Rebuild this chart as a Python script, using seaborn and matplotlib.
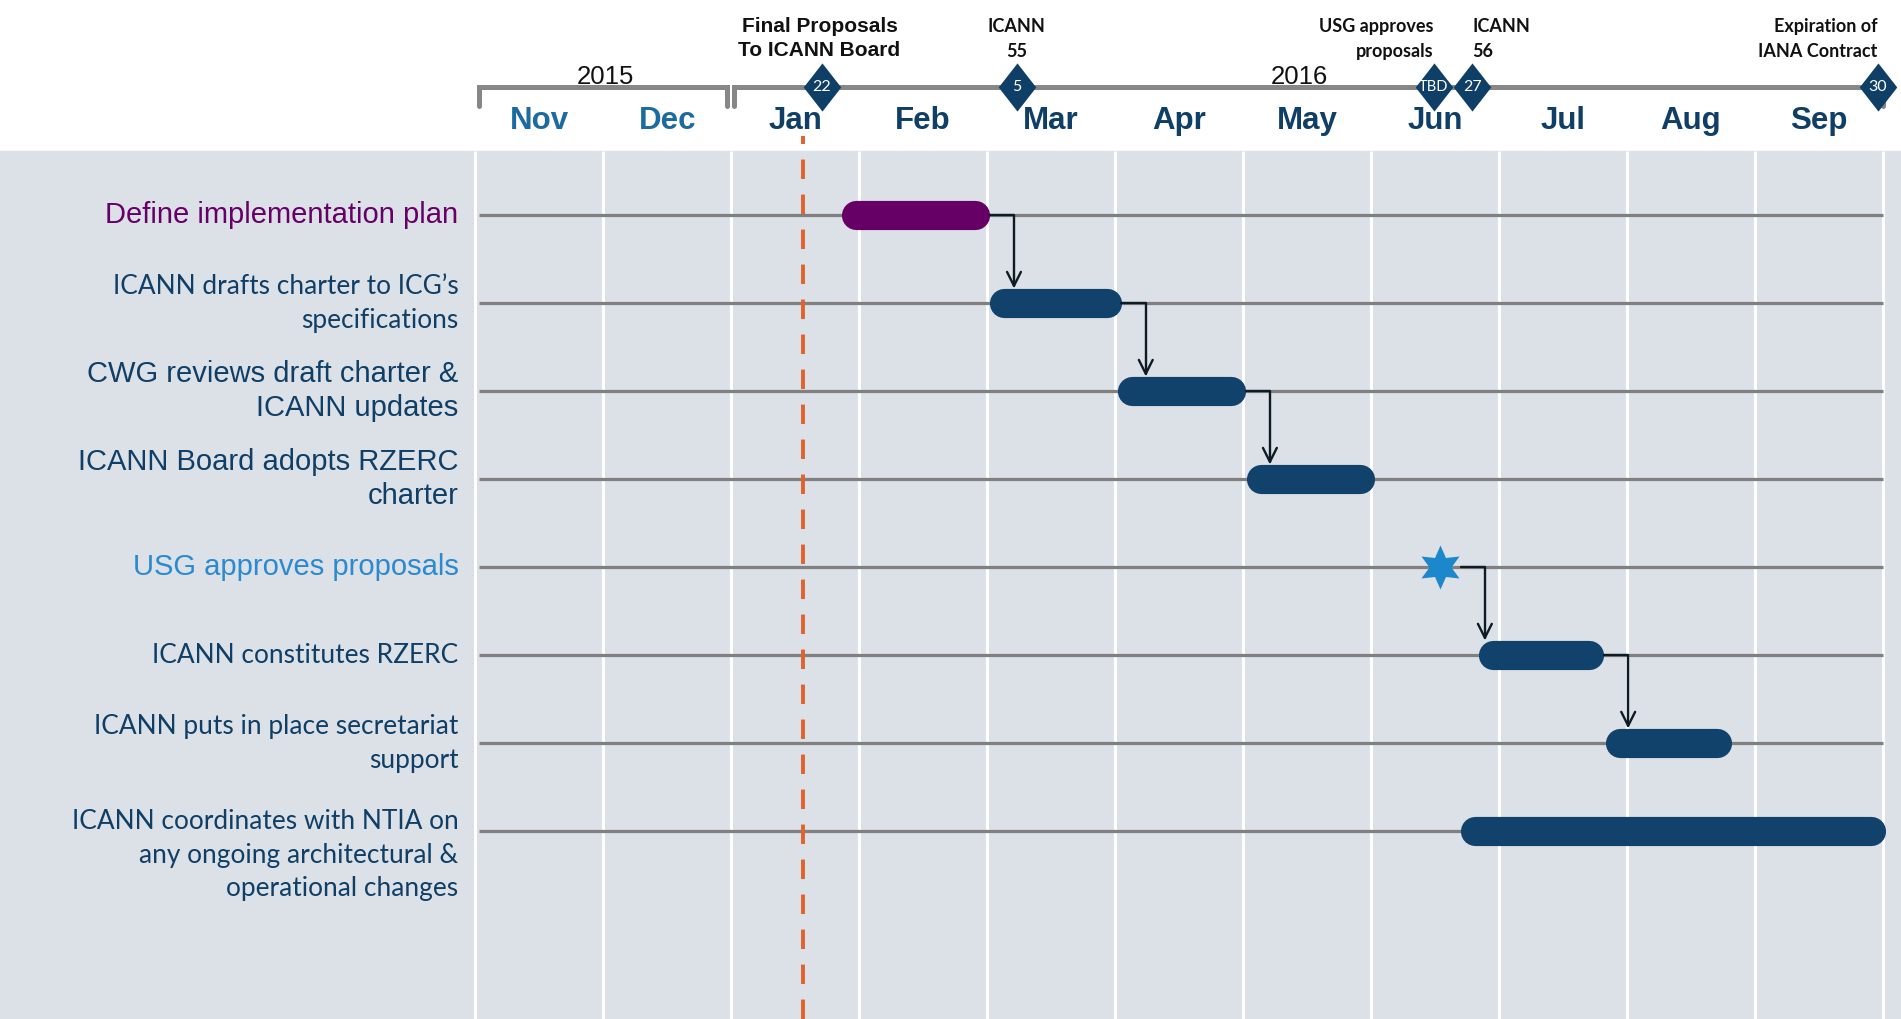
import matplotlib
matplotlib.use("Agg")
import matplotlib.pyplot as plt
from matplotlib.patches import Rectangle
import seaborn as sns

# x axis is in month units: 0 = start of Nov 2015, 11 = end of Sep 2016
months = ["Nov", "Dec", "Jan", "Feb", "Mar", "Apr", "May", "Jun", "Jul", "Aug", "Sep"]
years = ["2015", "2016"]
year_from = [0.03, 2.02]
year_to = [1.97, 11.0]
year_label_x = [1.02, 6.44]

tasks = ["Define implementation plan",
         "ICANN drafts charter to ICG\u2019s\nspecifications",
         "CWG reviews draft charter &\nICANN updates",
         "ICANN Board adopts RZERC\ncharter",
         "USG approves proposals",
         "ICANN constitutes RZERC",
         "ICANN puts in place secretariat\nsupport",
         "ICANN coordinates with NTIA on\nany ongoing architectural &\noperational changes"]

# bars (row index, start, end)
bar_row = [0, 1, 2, 3, 5, 6, 7]
bar_start = [2.86, 4.02, 5.02, 6.03, 7.84, 8.83, 7.70]
bar_end = [4.02, 5.05, 6.02, 7.03, 8.82, 9.82, 11.02]

# USG approval event
star_row = 4
star_x = 7.54

# dependency arrows (from row, to row)
links = [(0, 1), (1, 2), (2, 3), (4, 5), (5, 6)]

# milestones on the header timeline
ms_x = [2.71, 4.23, 7.49, 7.79, 10.96]
ms_day = ["22", "5", "TBD", "27", "30"]
ms_text = ["Final Proposals\nTo ICANN Board", "ICANN\n55", "USG approves\nproposals",
           "ICANN\n56", "Expiration of\nIANA Contract"]

today_x = 2.56

# ---- styles
navy = "#0f3f66"
bar_navy = "#10426c"
purple = "#660066"
sky = "#1b88cb"
bg = "#dce0e7"
label_color = [purple, navy, navy, navy, "#2a8ad0", navy, navy, navy]
label_font = ["Liberation Sans", "Lato", "Liberation Sans", "Liberation Sans",
              "Liberation Sans", "Lato", "Lato", "Lato"]
label_size = [21, 18.9, 21, 21, 21, 18.9, 18.9, 18.9]
label_ls = [1.28, 1.44, 1.28, 1.28, 1.28, 1.44, 1.44, 1.44]
ms_ha = ["center", "center", "right", "left", "right"]

sns.set_style("white")
plt.rcParams["font.family"] = ["Liberation Sans", "DejaVu Sans"]

fig = plt.figure(figsize=(19.01, 10.19), dpi=100)
ax = fig.add_axes([0, 0, 1, 1])
ax.axis("off")
hx = ax.get_xaxis_transform()

panel_top = 0.8515
ax.add_patch(Rectangle((0, 0), 1, panel_top, transform=ax.transAxes, color=bg, zorder=0))
ax.vlines(range(len(months) + 1), 0, panel_top, transform=hx, colors="white", lw=2.2, zorder=1)

rows = list(range(len(tasks)))
ax.hlines(rows, 0.03, 11.0, colors="#808080", lw=2.3, zorder=2)

# today line
ax.axvline(today_x, ymin=0, ymax=0.867, color="#e2622b", lw=2.8, ls=(0, (5, 4)), zorder=3)

# rounded bars
cap = 0.113
for r, s, e in zip(bar_row, bar_start, bar_end):
    c = purple if r == 0 else bar_navy
    ax.hlines(r, s + cap, e - cap, colors=c, lw=21, capstyle="round", zorder=5)

# star event
sns.scatterplot(x=[star_x], y=[star_row], marker=(6, 1, 0), s=1000, color=sky,
                edgecolor=sky, linewidth=0, zorder=6, ax=ax, legend=False)

# arrows
ends = dict(zip(bar_row, bar_end))
ends[star_row] = star_x + 0.16
for a, b in links:
    x0 = ends[a]
    xt = x0 + 0.19
    ax.annotate("", xy=(xt, b - 0.17), xytext=(x0, a),
                arrowprops=dict(arrowstyle="->,head_length=1.0,head_width=0.5", color="#0d1b24", lw=1.7,
                                shrinkA=0, shrinkB=0,
                                connectionstyle="angle,angleA=0,angleB=90,rad=0"),
                zorder=7)

# row labels
for i, t in enumerate(tasks):
    y = i + (0.27 if t.count("\n") == 2 else 0)
    ax.text(-0.13, y, t, ha="right", va="center", color=label_color[i],
            fontsize=label_size[i], family=label_font[i], linespacing=label_ls[i])

# header: year brackets
y_line = 0.9145
y_tick = 0.8955
for a, b in zip(year_from, year_to):
    ax.plot([a, a, b, b], [y_tick, y_line, y_line, y_tick], transform=hx,
            color="#878787", lw=3.6, solid_joinstyle="miter", zorder=3)
for yr, x in zip(years, year_label_x):
    ax.text(x, 0.918, yr, transform=hx, ha="center", va="baseline", fontsize=18.5, color="#111111")

for i, m in enumerate(months):
    ax.text(i + 0.5, 0.881, m, transform=hx, ha="center", va="center", fontsize=22.5,
            fontweight="bold", color="#1c6ba0" if i < 2 else navy)

# milestones
diamond = [(0, 1), (0.78, 0), (0, -1), (-0.78, 0), (0, 1)]
sns.scatterplot(x=ms_x, y=[y_line] * len(ms_x), marker=diamond, s=1200, color=navy,
                edgecolor=navy, linewidth=0, transform=hx, zorder=8, ax=ax, legend=False)
for x, d in zip(ms_x, ms_day):
    ax.text(x, y_line, d, transform=hx, ha="center", va="center", color="white",
            fontsize=10.5 if d == "TBD" else 11.5, family="Lato", zorder=9)
for i, (x, t) in enumerate(zip(ms_x, ms_text)):
    if i == 0:
        ax.text(x - 0.02, 0.941, t, transform=hx, ha="center", va="bottom", fontsize=15,
                fontweight="bold", color="#111111", linespacing=1.32)
    else:
        ax.text(x, 0.941, t, transform=hx, ha=ms_ha[i], va="bottom", fontsize=13,
                fontweight="bold", family="Lato", color="#111111", linespacing=1.55)

ax.set_xlim(-3.714, 11.142)
ax.set_ylim(9.133, -2.448)
fig.savefig("out.png", dpi=100)
